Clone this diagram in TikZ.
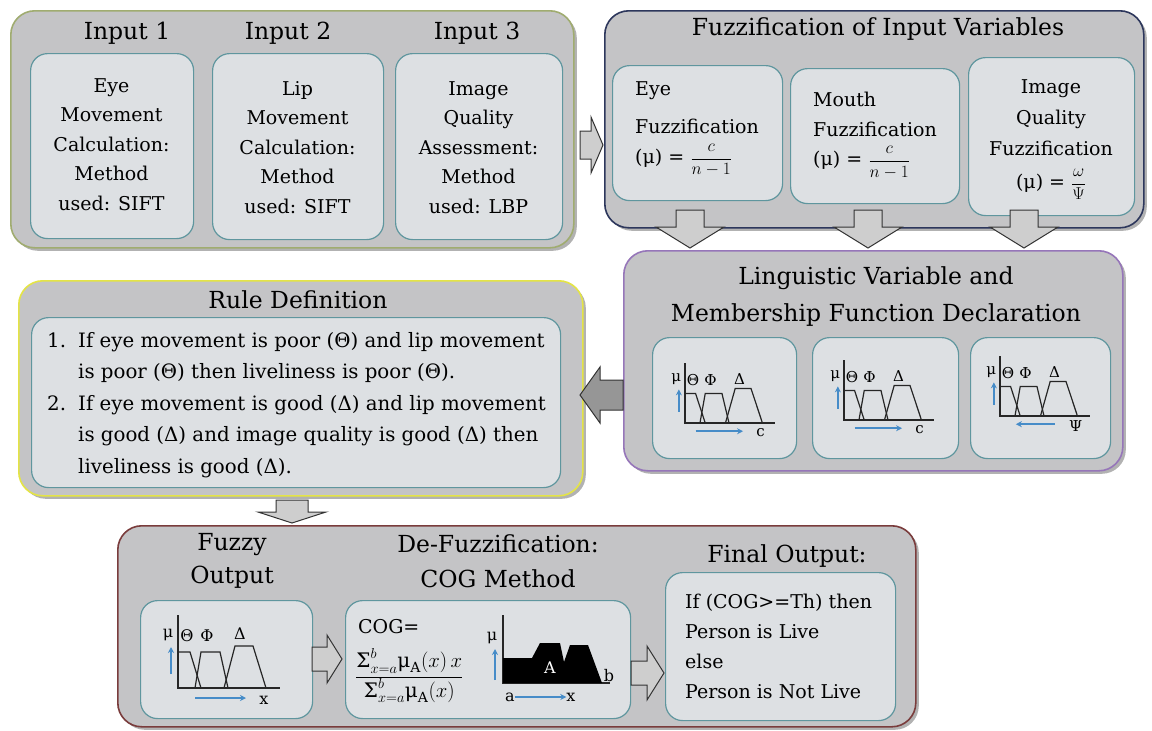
\documentclass[tikz,border=0pt]{standalone}
\usepackage{fontspec}
\setmainfont{DejaVu Serif}
\usetikzlibrary{shadows,arrows.meta}

\definecolor{outerfill}{RGB}{196,196,198}
\definecolor{innerfill}{RGB}{221,224,227}
\definecolor{innerdraw}{RGB}{95,150,158}
\definecolor{borderA}{RGB}{160,172,112}
\definecolor{borderB}{RGB}{45,55,92}
\definecolor{borderC}{RGB}{150,118,185}
\definecolor{borderD}{RGB}{228,228,70}
\definecolor{borderE}{RGB}{122,60,60}
\definecolor{arrowfill}{RGB}{206,206,206}
\definecolor{arrowdark}{RGB}{150,150,150}
\definecolor{chartblue}{RGB}{70,140,200}

\newcommand\blockV[7]{%
  \draw[#7] ({#1-#5},#2) -- ({#1+#5},#2) -- ({#1+#5},#3) -- ({#1+#6},#3) -- (#1,#4) -- ({#1-#6},#3) -- ({#1-#5},#3) -- cycle;}
\newcommand\blockH[7]{%
  \draw[#7] (#2,{#1-#5}) -- (#3,{#1-#5}) -- (#3,{#1-#6}) -- (#4,#1) -- (#3,{#1+#6}) -- (#3,{#1+#5}) -- (#2,{#1+#5}) -- cycle;}
\newcommand\smallfrac[2]{{\fontsize{17}{17}\selectfont$\displaystyle\frac{#1}{#2}$}}
\newcommand\mysum{\mbox{Σ}}

\tikzset{
  outerbox/.style={draw=#1, line width=1.6pt, fill=outerfill, rounded corners=24pt,
    anchor=north west, inner sep=0pt,
    drop shadow={shadow xshift=3pt, shadow yshift=-3pt, opacity=0.3, fill=black}},
  innerbox/.style={draw=innerdraw, line width=1.2pt, fill=innerfill, rounded corners=17pt,
    anchor=north west, inner sep=0pt},
  body/.style={font=\fontsize{19}{29.5}\selectfont, inner sep=0pt},
  ttl/.style={font=\fontsize{23.5}{35}\selectfont, inner sep=0pt},
  barrow/.style={draw=black!80, line width=1pt, fill=arrowfill, line join=miter},
  darrow/.style={barrow, fill=arrowdark},
  chartline/.style={line width=1.2pt, draw=black!85},
  bluearrow/.style={draw=chartblue, line width=1.5pt, -{Stealth[length=6pt,width=6pt]}},
  chartlbl/.style={font=\fontsize{16}{16}\selectfont, inner sep=0pt},
  pics/mf/.style n args={3}{code={
    \draw[chartline] (0,-73) -- (0,0) -- (102,0);
    \draw[chartline] (0,-36) -- (12,-36) -- (23,0);
    \draw[chartline] (17,0) -- (23,-36) -- (42,-36) -- (50,0);
    \draw[chartline] (46,0) -- (57,-42) -- (75,-42) -- (88,0);
    \node[chartlbl] (-mu) at (-10,-53) {μ};
    \node[chartlbl] (-th) at (9,-52) {Θ};
    \node[chartlbl] (-ph) at (29,-52) {Φ};
    \node[chartlbl] (-de) at (62,-54) {Δ};
    \draw[bluearrow] (-7,-14) -- (-7,-41);
    \draw[bluearrow] (#2,10) -- (#3,10);
    \node[chartlbl] (-ax) at (86,12) {#1};
  }}
}

\begin{document}
\begin{tikzpicture}[x=1pt,y=-1pt]
\fill[white] (0,0) rectangle (1152,731);
\useasboundingbox (0,0) rectangle (1152,731);

% ---------- outer boxes ----------
\node[outerbox=borderA, minimum width=563pt, minimum height=237pt] (A) at (10,10) {};
\node[outerbox=borderB, minimum width=539pt, minimum height=217pt] (B) at (604,10) {};
\node[outerbox=borderC, minimum width=499pt, minimum height=220pt] (C) at (623,250) {};
\node[outerbox=borderD, minimum width=564pt, minimum height=215pt] (D) at (18,280) {};
\node[outerbox=borderE, minimum width=798pt, minimum height=201pt] (E) at (117,525) {};

% ---------- inner boxes ----------
\node[innerbox, minimum width=163pt, minimum height=185pt] (A1) at (30,53) {};
\node[innerbox, minimum width=171pt, minimum height=186pt] (A2) at (212,53) {};
\node[innerbox, minimum width=167pt, minimum height=186pt] (A3) at (395,53) {};
\node[innerbox, minimum width=170pt, minimum height=135pt] (B1) at (612,65) {};
\node[innerbox, minimum width=169pt, minimum height=135pt] (B2) at (790,68) {};
\node[innerbox, minimum width=166pt, minimum height=158pt] (B3) at (968,57) {};
\node[innerbox, minimum width=144pt, minimum height=121pt] (C1) at (652,337) {};
\node[innerbox, minimum width=146pt, minimum height=121pt] (C2) at (812,337) {};
\node[innerbox, minimum width=140pt, minimum height=121pt] (C3) at (970,337) {};
\node[innerbox, minimum width=529pt, minimum height=170pt] (D1) at (31,317) {};
\node[innerbox, minimum width=172pt, minimum height=118pt] (E1) at (140,600) {};
\node[innerbox, minimum width=285pt, minimum height=118pt] (E2) at (345,600) {};
\node[innerbox, minimum width=230pt, minimum height=148pt] (E3) at (665,572) {};

% ---------- titles ----------
\node[ttl, anchor=base] (tA1) at (127,39) {Input 1};
\node[ttl, anchor=base] (tA2) at (288,39) {Input 2};
\node[ttl, anchor=base] (tA3) at (477,39) {Input 3};
\node[ttl, anchor=base] (tB) at (878,35) {Fuzzification of Input Variables};
\node[ttl, align=center, anchor=north, font=\fontsize{23.5}{37}\selectfont] (tC) at (876,266)
  {Linguistic Variable and\\Membership Function Declaration};
\node[ttl, anchor=base] (tD) at (298,308) {Rule Definition};
\node[ttl, align=center, anchor=north, font=\fontsize{23.5}{33}\selectfont] (tE1) at (232,533) {Fuzzy\\Output};
\node[ttl, align=center, anchor=north, font=\fontsize{23.5}{35}\selectfont] (tE2) at (498,534)
  {De-Fuzzification:\\COG Method};
\node[ttl, anchor=base] (tE3) at (787,562) {Final Output:};

% ---------- input texts ----------
\node[body, align=center, anchor=north] (A1t) at (111.5,78)
  {Eye\\Movement\\Calculation:\\Method\\used: SIFT};
\node[body, align=center, anchor=north] (A2t) at (297.5,81)
  {Lip\\Movement\\Calculation:\\Method\\used: SIFT};
\node[body, align=center, anchor=north] (A3t) at (478.5,81)
  {Image\\Quality\\Assessment:\\Method\\used: LBP};

% ---------- fuzzification texts ----------
\node[body, align=left, anchor=north west, font=\fontsize{19}{30}\selectfont] (B1t) at (635,81)
  {Eye\\[8pt]Fuzzification\\(μ) = \smallfrac{c}{n-1}};
\node[body, align=left, anchor=north west] (B2t) at (813,92)
  {Mouth\\Fuzzification\\(μ) = \smallfrac{c}{n-1}};
\node[body, align=center, anchor=north, font=\fontsize{19}{31}\selectfont] (B3t) at (1051,79)
  {Image\\Quality\\Fuzzification\\[2pt](μ) = \smallfrac{\omega}{\Psi}};

% ---------- membership charts ----------
\pic[xscale=0.88, yscale=0.82, chartlbl/.style={font=\fontsize{15}{15}\selectfont, inner sep=0pt}]
  (lv1) at (685,423) {mf={c}{12}{66}};
\pic[xscale=0.88, yscale=0.82, chartlbl/.style={font=\fontsize{15}{15}\selectfont, inner sep=0pt}]
  (lv2) at (844,420) {mf={c}{12}{66}};
\pic[xscale=0.88, yscale=0.82, chartlbl/.style={font=\fontsize{15}{15}\selectfont, inner sep=0pt}]
  (lv3) at (1000,416) {mf={Ψ}{62}{18}};
\pic (fz) at (178,688) {mf={x}{17}{68}};

% ---------- rules ----------
\node[body, anchor=north west, font=\fontsize{19.8}{31.5}\selectfont] (Dt) at (47,325)
  {\begin{tabular}{@{}p{31pt}@{}l@{}}
   1. & If eye movement is poor (Θ) and lip movement\\
      & is poor (Θ) then liveliness is poor (Θ).\\
   2. & If eye movement is good (Δ) and lip movement\\
      & is good (Δ) and image quality is good (Δ) then\\
      & liveliness is good (Δ).
   \end{tabular}};

% ---------- COG ----------
\node[body, anchor=base west] (cog) at (358,633) {COG=};
\node[anchor=base west, inner sep=0pt, font=\fontsize{20}{20}\selectfont] (frac) at (355,682)
  {$\displaystyle\frac{\mysum_{x=a}^{b}\mbox{μ}_{\mathrm{A}}(x)\,x}{\mysum_{x=a}^{b}\mbox{μ}_{\mathrm{A}}(x)}$};
\draw[chartline] (503,615) -- (503,683) -- (610,683);
\fill[black] (503,683) -- (503,658) -- (532,658) -- (540,643) -- (560,643) -- (564,662)
  -- (570,645) -- (588,645) -- (602,683) -- cycle;
\node[chartlbl, text=white] (cogA) at (550,668) {A};
\node[chartlbl] (cogb) at (609,676) {b};
\node[chartlbl] (cogmu) at (492,638) {μ};
\draw[bluearrow] (495,680) -- (495,649);
\node[chartlbl] (coga) at (510,697) {a};
\node[chartlbl] (cogx) at (571,697) {x};
\draw[bluearrow] (coga) -- (cogx);

% ---------- final output ----------
\node[body, align=left, anchor=north west, font=\fontsize{19}{30}\selectfont] (E3t) at (685,594)
  {If (COG>=Th) then\\Person is Live\\else\\Person is Not Live};

% ---------- block arrows ----------
\blockH{145}{580}{591}{603}{14}{28}{barrow}
\blockV{690}{210}{227}{248}{14}{34}{barrow}
\blockV{868}{210}{227}{248}{14}{34}{barrow}
\blockV{1024}{210}{227}{248}{14}{34}{barrow}
\blockH{395}{623}{600}{580}{15}{28}{darrow}
\blockV{292}{500}{512}{523}{16}{34}{barrow}
\blockH{659}{312}{327}{342}{12}{24}{barrow}
\blockH{673}{631}{647}{664}{12}{27}{barrow}
\end{tikzpicture}
\end{document}
